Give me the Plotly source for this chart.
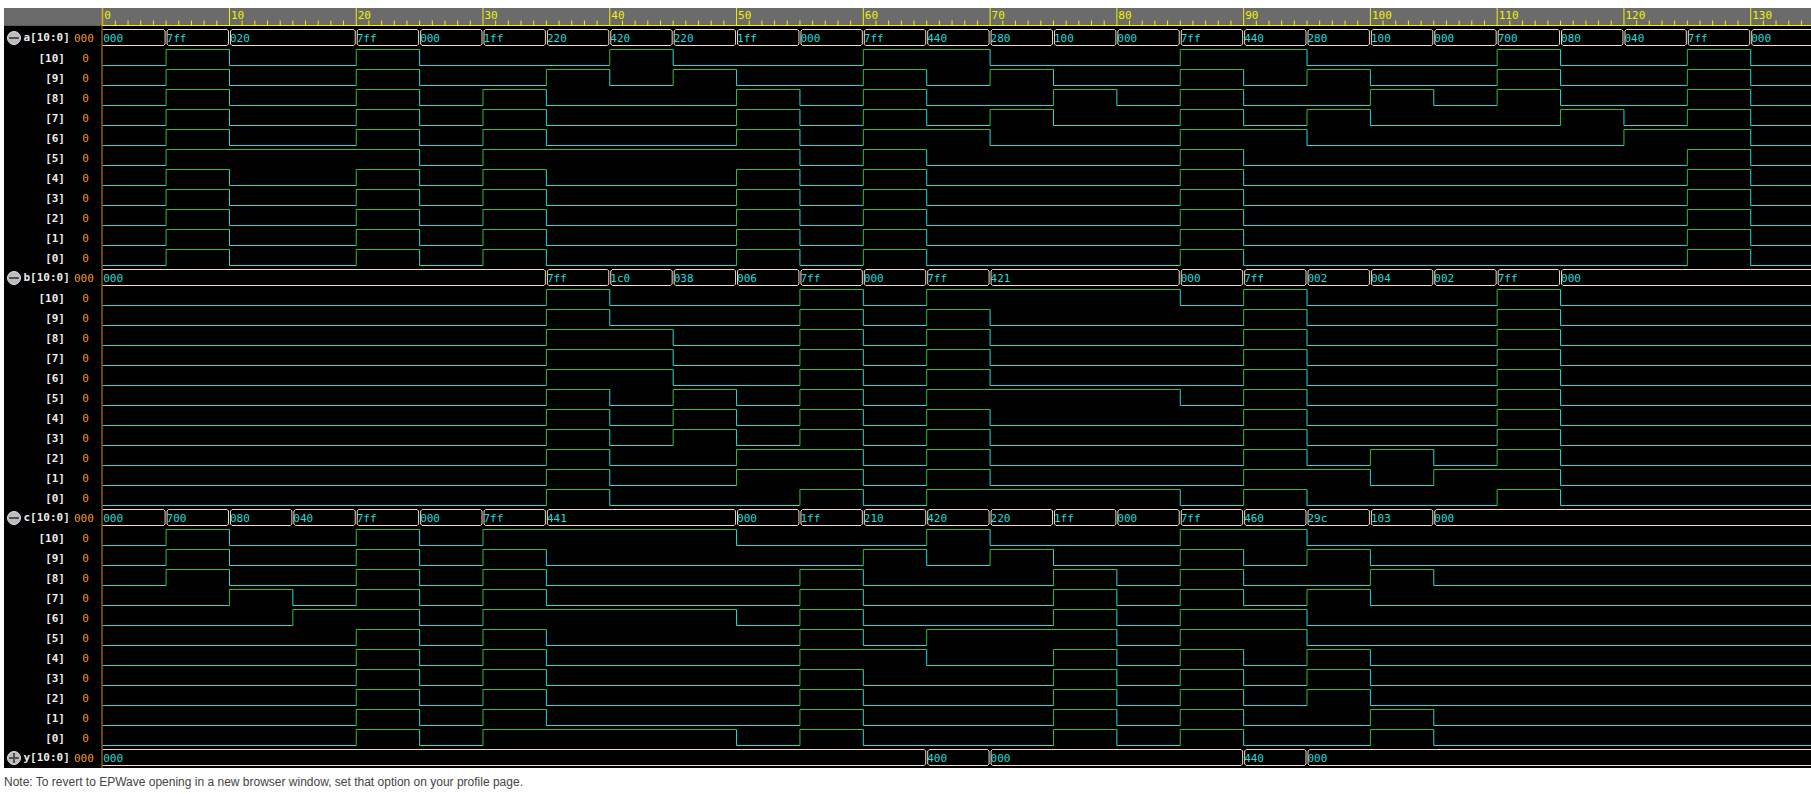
import plotly.graph_objects as go

# ---------------- data ----------------
a_times = [0, 5, 10, 20, 25, 30, 35, 40, 45, 50, 55, 60, 65, 70, 75, 80, 85, 90, 95, 100, 105, 110, 115, 120, 125, 130]
a_vals = ["000", "7ff", "020", "7ff", "000", "1ff", "220", "420", "220", "1ff", "000", "7ff", "440", "280",
          "100", "000", "7ff", "440", "280", "100", "000", "700", "080", "040", "7ff", "000"]
b_times = [0, 35, 40, 45, 50, 55, 60, 65, 70, 85, 90, 95, 100, 105, 110, 115]
b_vals = ["000", "7ff", "1c0", "038", "006", "7ff", "000", "7ff", "421", "000", "7ff", "002", "004", "002", "7ff", "000"]
c_times = [0, 5, 10, 15, 20, 25, 30, 35, 50, 55, 60, 65, 70, 75, 80, 85, 90, 95, 100, 105]
c_vals = ["000", "700", "080", "040", "7ff", "000", "7ff", "441", "000", "1ff", "210", "420", "220", "1ff",
          "000", "7ff", "460", "29c", "103", "000"]
y_times = [0, 65, 70, 90, 95]
y_vals = ["000", "400", "000", "440", "000"]

signals = [("a", a_times, a_vals, True), ("b", b_times, b_vals, True),
           ("c", c_times, c_vals, True), ("y", y_times, y_vals, False)]
bit_labels = ["[10]", "[9]", "[8]", "[7]", "[6]", "[5]", "[4]", "[3]", "[2]", "[1]", "[0]"]
tick_major = list(range(0, 131, 10))
tick_minor = list(range(0, 135))
note_text = "Note: To revert to EPWave opening in a new browser window, set that option on your profile page."

# ---------------- geometry / style ----------------
W, H = 1811, 794
X0 = 102.7          # pixel of t = 0
PX = 12.677         # pixels per time unit
T_MIN = -X0 / PX
T_MAX = (W - X0) / PX
ROW0, PITCH = 28, 20
CYAN = "#1fdcdc"
GREEN = "#30c030"
BUS = "#f2dcc0"
ORANGE = "#f0962a"
YELLOW = "#f4f000"
WHITE = "#ececec"
MONO = "DejaVu Sans Mono"

dpx = 1.0 / PX

fig = go.Figure()

# backgrounds
shapes = [
    dict(type="rect", xref="x2", yref="y", x0=4, x1=W, y0=8, y1=25.5, fillcolor="#6b6b6b", line_width=0, layer="below"),
    dict(type="rect", xref="x2", yref="y", x0=4, x1=W, y0=25.5, y1=768, fillcolor="#000000", line_width=0, layer="below"),
    dict(type="line", xref="x2", yref="y", x0=102, x1=W, y0=25.5, y1=25.5, line=dict(color=YELLOW, width=1)),
    dict(type="line", xref="x2", yref="y", x0=102, x1=102, y0=8, y1=768, line=dict(color="#d08a1c", width=1)),
]

# ruler ticks
tx, ty = [], []
for t in tick_minor:
    if t in tick_major:
        tx += [t, t, None]; ty += [8, 25, None]
    else:
        tx += [t, t, None]; ty += [20.5, 25, None]
fig.add_trace(go.Scatter(x=tx, y=ty, mode="lines", line=dict(color=YELLOW, width=1), hoverinfo="skip"))
fig.add_trace(go.Scatter(x=[t + 1.5 * dpx for t in tick_major], y=[16.5] * len(tick_major), mode="text",
                         text=[str(t) for t in tick_major], textposition="middle right",
                         textfont=dict(family=MONO, size=11, color=YELLOW), hoverinfo="skip"))

# build rows
green_x, green_y, cyan_x, cyan_y = [], [], [], []
bus_x, bus_y = [], []
bus_tx, bus_ty, bus_txt = [], [], []
lab_x, lab_y, lab_t, lab_pos = [], [], [], []
val_x, val_y, val_t = [], [], []
icon_minus_y, icon_plus_y = [], []

row = 0
c = 1.5 * dpx
for name, times, vals, expanded in signals:
    top = ROW0 + PITCH * row
    yt, yb = top + 1.5, top + 17.5
    ends = times[1:] + [T_MAX + 1]
    for k, (t0, t1, v) in enumerate(zip(times, ends, vals)):
        R = t1 - 1 * dpx
        if k == 0:
            px = [t0, R - c, R, R, R - c, t0, None]
            py = [yt, yt, yt + 1.5, yb - 1.5, yb, yb, None]
        else:
            L = t0 + 1 * dpx
            px = [L, L + c, R - c, R, R, R - c, L + c, L, L, None]
            py = [yt + 1.5, yt, yt, yt + 1.5, yb - 1.5, yb, yb, yb - 1.5, yt + 1.5, None]
        bus_x += px; bus_y += py
        bus_tx.append(t0 + 0.5 * dpx); bus_ty.append(top + 11.5); bus_txt.append(v)
    lab_x.append(23.5); lab_y.append(top + 10.5); lab_t.append(name + "[10:0]"); lab_pos.append("middle right")
    val_x.append(74); val_y.append(top + 11); val_t.append(vals[0])
    (icon_minus_y if expanded else icon_plus_y).append(top + 10)
    row += 1
    if not expanded:
        continue
    for bi in range(10, -1, -1):
        top = ROW0 + PITCH * row
        hi, lo = top + 1.5, top + 17.5
        bits = [(int(v, 16) >> bi) & 1 for v in vals]
        mt, mv = [], []
        for t, b in zip(times, bits):
            if not mv or mv[-1] != b:
                mt.append(t); mv.append(b)
        mends = mt[1:] + [T_MAX + 1]
        for k, (t0, t1, b) in enumerate(zip(mt, mends, mv)):
            lvl = hi if b else lo
            if k == 0:
                xs, ys = [t0, t1, None], [lvl, lvl, None]
            else:
                prev = lo if b else hi
                xs, ys = [t0, t0, t1, None], [prev, lvl, lvl, None]
            if b:
                green_x += xs; green_y += ys
            else:
                cyan_x += xs; cyan_y += ys
        lab_x.append(65); lab_y.append(top + 11.5); lab_t.append(bit_labels[10 - bi]); lab_pos.append("middle left")
        val_x.append(85.5); val_y.append(top + 11.5); val_t.append(str(bits[0]))
        row += 1

fig.add_trace(go.Scatter(x=cyan_x, y=cyan_y, mode="lines", line=dict(color=CYAN, width=1), hoverinfo="skip"))
fig.add_trace(go.Scatter(x=green_x, y=green_y, mode="lines", line=dict(color=GREEN, width=1), hoverinfo="skip"))
fig.add_trace(go.Scatter(x=bus_x, y=bus_y, mode="lines", line=dict(color=BUS, width=1), hoverinfo="skip"))
fig.add_trace(go.Scatter(x=bus_tx, y=bus_ty, mode="text", text=bus_txt, textposition="middle right",
                         textfont=dict(family=MONO, size=11, color=CYAN), hoverinfo="skip"))

# left panel
for pos in ["middle right", "middle left"]:
    idx = [i for i, p in enumerate(lab_pos) if p == pos]
    fig.add_trace(go.Scatter(x=[lab_x[i] for i in idx], y=[lab_y[i] for i in idx], mode="text", xaxis="x2",
                             text=[lab_t[i] for i in idx], textposition=pos,
                             textfont=dict(family=MONO, size=11, color=WHITE, weight="bold"), hoverinfo="skip"))
bus_idx = [i for i, t in enumerate(val_t) if len(t) == 3]
bit_idx = [i for i, t in enumerate(val_t) if len(t) == 1]
fig.add_trace(go.Scatter(x=[val_x[i] for i in bus_idx], y=[val_y[i] for i in bus_idx], mode="text", xaxis="x2",
                         text=[val_t[i] for i in bus_idx], textposition="middle right",
                         textfont=dict(family=MONO, size=11, color=ORANGE), hoverinfo="skip"))
fig.add_trace(go.Scatter(x=[val_x[i] for i in bit_idx], y=[val_y[i] for i in bit_idx], mode="text", xaxis="x2",
                         text=[val_t[i] for i in bit_idx], textposition="middle center",
                         textfont=dict(family=MONO, size=11, color=ORANGE), hoverinfo="skip"))
iy = icon_minus_y + icon_plus_y
fig.add_trace(go.Scatter(x=[14] * len(iy), y=iy, mode="markers", xaxis="x2",
                         marker=dict(symbol="circle", size=13, color="#bcbcbc", line=dict(color="#e0e0e0", width=1)),
                         hoverinfo="skip"))
fig.add_trace(go.Scatter(x=[14] * len(iy), y=iy, mode="markers", xaxis="x2",
                         marker=dict(symbol="line-ew", size=7, line=dict(color="#505050", width=2)), hoverinfo="skip"))
fig.add_trace(go.Scatter(x=[14] * len(icon_plus_y), y=icon_plus_y, mode="markers", xaxis="x2",
                         marker=dict(symbol="line-ns", size=7, line=dict(color="#505050", width=2)), hoverinfo="skip"))

fig.add_trace(go.Scatter(x=[4], y=[783], mode="text", xaxis="x2", text=[note_text], textposition="middle right",
                         textfont=dict(family="Liberation Sans, Arial", size=12, color="#444444"), hoverinfo="skip"))

fig.update_layout(
    width=W, height=H, margin=dict(l=0, r=0, t=0, b=0), autosize=False,
    paper_bgcolor="white", plot_bgcolor="white", showlegend=False, shapes=shapes,
    xaxis=dict(range=[T_MIN, T_MAX], visible=False, domain=[0, 1], fixedrange=True),
    xaxis2=dict(range=[0, W], visible=False, overlaying="x", anchor="y", fixedrange=True),
    yaxis=dict(range=[H, 0], visible=False, domain=[0, 1], fixedrange=True),
)
fig.write_html("out.html", config={"displayModeBar": False, "staticPlot": True})
